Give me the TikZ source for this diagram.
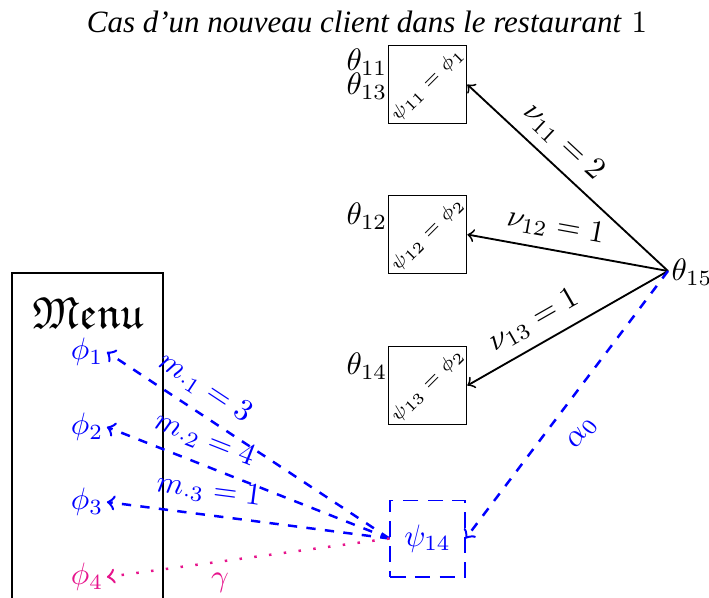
\documentclass[tikz,border=0pt]{standalone}
\usepackage[no-math]{fontspec}
\newfontfamily\titlefont[Ligatures=TeX]{Liberation Serif}
\usepackage{amsfonts}
\usepackage{graphicx}
\definecolor{pinkc}{RGB}{230,20,140}
\tikzset{
  itembox/.style={draw, minimum size=0.85cm, inner sep=0pt},
  psibox/.style={draw=blue, dash pattern=on 5pt off 3pt, minimum width=0.85cm, minimum height=0.87cm, inner sep=0pt, text=blue},
  thlab/.style={anchor=east, inner sep=0pt},
  phinode/.style={text=blue, inner sep=1pt},
  blackarrow/.style={->, semithick},
  bluearrow/.style={->, blue, dashed, thick},
  pinkarrow/.style={->, pinkc, loosely dotted, thick},
  bluelab/.style={text=blue, sloped, above},
  tinytext/.style={font=\fontsize{5.6}{6.5}\selectfont},
}
\begin{document}
\begin{tikzpicture}[x=0.01134cm, y=-0.01134cm]
\useasboundingbox (0,0) rectangle (709,597);
% title
\node (title) at (367,22) {{\titlefont\itshape Cas d’un nouveau client dans le restaurant} $1$};
% menu
\draw (12,620) -- (12,273) -- (163,273) -- (163,620);
\node (menu) at (88,313) {\Large$\mathfrak{Menu}$};
\node[phinode] (f1) at (87,352) {$\phi_1$};
\node[phinode] (f2) at (87,427) {$\phi_2$};
\node[phinode] (f3) at (87,502) {$\phi_3$};
\node[phinode, text=pinkc] (f4) at (87,577) {$\phi_4$};
% tables
\node[itembox, tinytext] (b1) at (427.5,84.5) {\rotatebox{45}{$\psi_{11}=\phi_1$}};
\node[itembox, tinytext] (b2) at (427.5,234.5) {\rotatebox{45}{$\psi_{12}=\phi_2$}};
\node[itembox, tinytext] (b3) at (427.5,385.5) {\rotatebox{45}{$\psi_{13}=\phi_2$}};
\node[thlab] (l11) at (388,62) {$\theta_{11}$};
\node[thlab] (l13) at (388,86) {$\theta_{13}$};
\node[thlab] (l12) at (388,216) {$\theta_{12}$};
\node[thlab] (l14) at (388,366) {$\theta_{14}$};
\node[psibox] (p14) at (427.5,538.5) {$\psi_{14}$};
\coordinate (t15) at (668,271);
\node[anchor=west, inner sep=0pt] (l15) at (671,272) {$\theta_{15}$};
% black arrows
\draw[blackarrow] (t15) -- node[pos=0.6, sloped, above] {$\nu_{11}=2$} (b1.east);
\draw[blackarrow] (t15) -- node[pos=0.58, sloped, above] {$\nu_{12}=1$} (b2.east);
\draw[blackarrow] (t15) -- node[pos=0.61, sloped, above] {$\nu_{13}=1$} (b3.east);
% blue arrows
\draw[bluearrow] (t15) -- node[pos=0.54, sloped, below=3pt, text=blue] {$\alpha_0$} (p14.east);
\draw[bluearrow] (p14.west) -- node[bluelab, pos=0.70] {$m_{\cdot 1}=3$} (f1.east);
\draw[bluearrow] (p14.west) -- node[bluelab, pos=0.685] {$m_{\cdot 2}=4$} (f2.east);
\draw[bluearrow] (p14.west) -- node[bluelab, pos=0.65] {$m_{\cdot 3}=1$} (f3.east);
\draw[pinkarrow] (p14.west) -- node[pos=0.6, below, text=pinkc] {$\gamma$} (f4.east);
\end{tikzpicture}
\end{document}
